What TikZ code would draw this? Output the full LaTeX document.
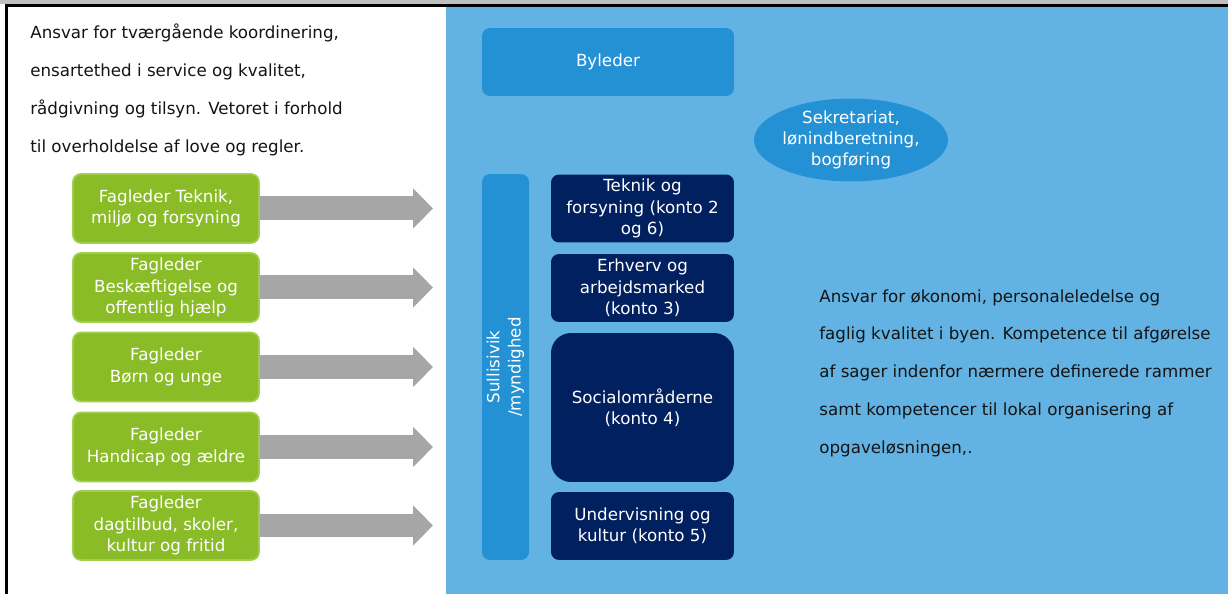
\documentclass[tikz,border=0pt]{standalone}
\usepackage{fontspec}
\setmainfont{DejaVu Sans}
\usetikzlibrary{shapes.geometric,arrows.meta}
\definecolor{panelblue}{RGB}{98,179,228}
\definecolor{midblue}{RGB}{35,145,211}
\definecolor{navy}{RGB}{0,32,96}
\definecolor{faggreen}{RGB}{138,188,40}
\definecolor{fagrim}{RGB}{160,207,80}
\definecolor{arrowgray}{RGB}{166,166,166}
\definecolor{textdark}{RGB}{20,20,20}
\newcommand{\boxfont}{\fontsize{9.5}{12.1}\selectfont}
\newcommand{\notefont}{\fontsize{9.5}{21.5}\selectfont}

\begin{document}
\begin{tikzpicture}[x=0.02cm,y=-0.02cm,
  fagbox/.style={rounded corners=0.16cm, fill=faggreen, draw=fagrim, line width=1pt,
    text=white, align=center, minimum width=3.72cm, minimum height=1.38cm, inner sep=1pt, font=\boxfont},
  kontobox/.style={rounded corners=0.16cm, fill=navy, text=white, align=center,
    minimum width=3.66cm, minimum height=1.36cm, inner sep=1pt, font=\boxfont},
  lederbox/.style={rounded corners=0.16cm, fill=midblue, text=white, align=center, font=\boxfont},
  fagarrow/.style={draw=arrowgray, line width=0.48cm, line cap=butt,
    -{Triangle[length=0.4cm,width=0.78cm]}},
  note/.style={anchor=west, align=left, text=textdark, font=\notefont, inner sep=0pt}]
\useasboundingbox (0,0) rectangle (1228,594);
\fill[white] (0,0) rectangle (1228,594);
\fill[panelblue] (446,7) rectangle (1228,594);
\fill[black!25] (0,0) rectangle (1228,4);
\fill[black] (5,4) rectangle (1228,7);
\fill[black] (5,4) rectangle (8,594);

% venstre side: fagledere
\node[note] (ansvar-by) at (30,90) {Ansvar for tværgående koordinering,\\ensartethed i service og kvalitet,\\rådgivning og tilsyn. Vetoret i forhold\\til overholdelse af love og regler.};

\node[fagbox] (fag-1) at (166,208.5) {Fagleder Teknik,\\miljø og forsyning};
\node[fagbox] (fag-2) at (166,287.5) {Fagleder\\Beskæftigelse og\\offentlig hjælp};
\node[fagbox] (fag-3) at (166,367) {Fagleder\\Børn og unge};
\node[fagbox] (fag-4) at (166,447) {Fagleder\\Handicap og ældre};
\node[fagbox] (fag-5) at (166,525.5) {Fagleder\\dagtilbud, skoler,\\kultur og fritid};

\coordinate (tip) at (433,0);
\foreach \i in {1,...,5}
  \draw[fagarrow] (fag-\i.east) -- (fag-\i.east -| tip);

% hoejre side: byen
\node[lederbox, minimum width=5.04cm, minimum height=1.36cm] (byleder) at (608,62) {Byleder};
\node[ellipse, fill=midblue, text=white, align=center, font=\boxfont,
  minimum width=3.8cm, minimum height=1.6cm, inner sep=0pt] (sekr) at (851,140)
  {Sekretariat,\\lønindberetning,\\bogføring};
\node[lederbox, minimum width=0.94cm, minimum height=7.72cm] (sulli) at (505.5,367) {};
\node[rotate=90, text=white, align=center, font=\boxfont] (sulli-txt) at (sulli.center) {Sullisivik\\/myndighed};

\node[kontobox] (konto-26) at (642.5,208.5) {Teknik og\\forsyning (konto 2\\og 6)};
\node[kontobox] (konto-3) at (642.5,288) {Erhverv og\\arbejdsmarked\\(konto 3)};
\node[kontobox, rounded corners=0.4cm, minimum height=2.98cm] (konto-4) at (642.5,407.5) {Socialområderne\\(konto 4)};
\node[kontobox] (konto-5) at (642.5,526) {Undervisning og\\kultur (konto 5)};

\node[note] (ansvar-byen) at (819,373) {Ansvar for økonomi, personaleledelse og\\faglig kvalitet i byen. Kompetence til afgørelse\\af sager indenfor nærmere definerede rammer\\samt kompetencer til lokal organisering af\\opgaveløsningen,.};
\end{tikzpicture}
\end{document}
